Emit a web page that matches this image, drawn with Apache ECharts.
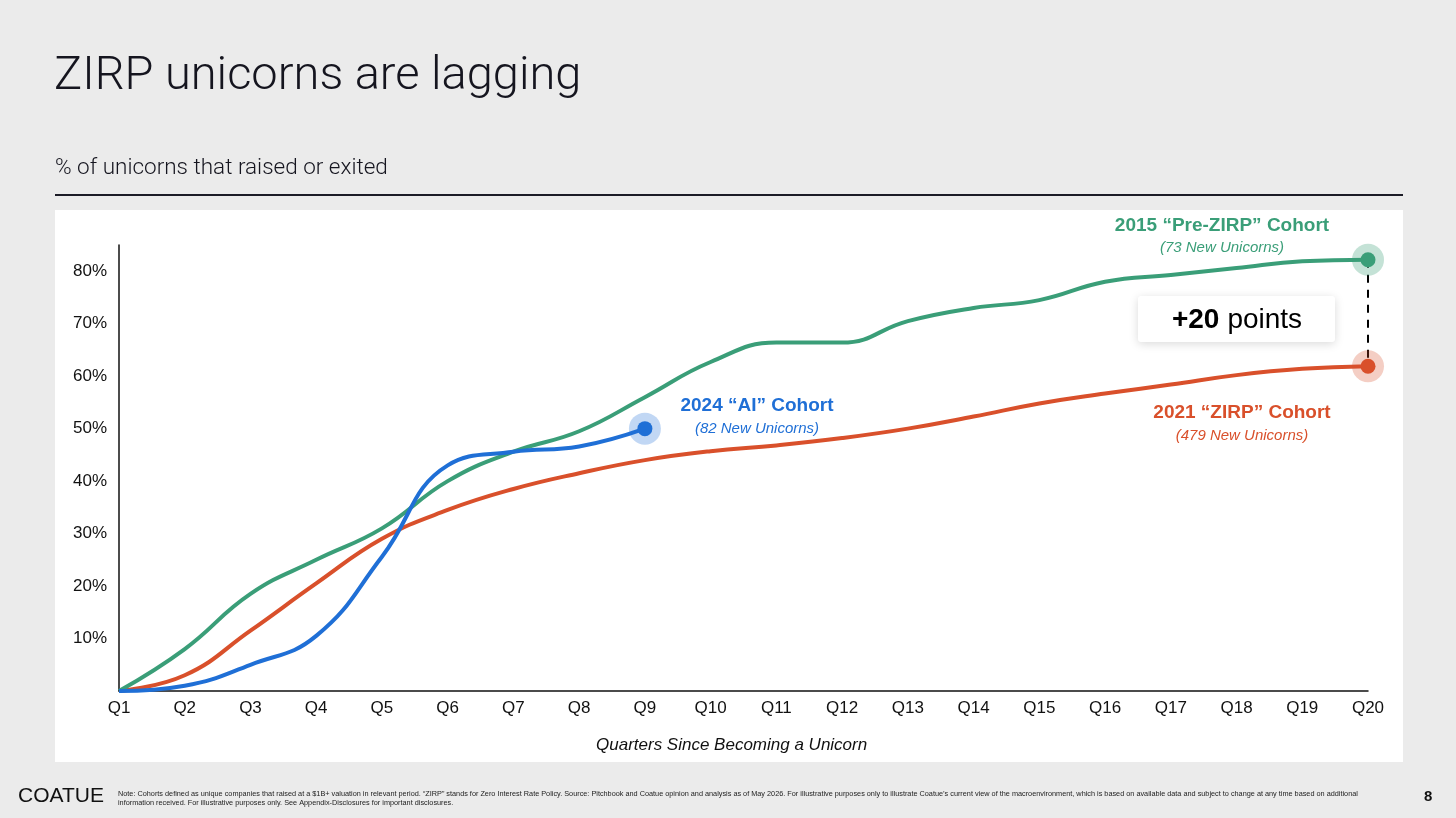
<!DOCTYPE html>
<html>
<head>
<meta charset="utf-8">
<script src="https://cdn.jsdelivr.net/npm/echarts@6/dist/echarts.min.js"></script>
<style>
  html, body { margin: 0; padding: 0; background: #ebebeb; }
  #chart { width: 1456px; height: 818px; }
</style>
</head>
<body>
<div id="chart"></div>
<script>
/* data */
var quarters = ['Q1','Q2','Q3','Q4','Q5','Q6','Q7','Q8','Q9','Q10','Q11','Q12','Q13','Q14','Q15','Q16','Q17','Q18','Q19','Q20'];
var preZirp = [0, 8, 18.5, 25, 31, 40, 45.6, 49.5, 56, 62.7, 66.4, 66.4, 70.5, 73, 74.5, 78, 79.3, 80.6, 81.9, 82.2];
var zirp = [0, 3, 11.5, 20.5, 29, 34.5, 38.5, 41.5, 44, 45.7, 46.8, 48.2, 50, 52.3, 54.8, 56.7, 58.4, 60.2, 61.4, 61.9];
var aiCohort = [0, 1, 5, 10.5, 25.6, 43, 45.6, 46.6, 50];

var GREEN = '#3a9e78', RED = '#d9502b', BLUE = '#1f6fd6';
var FONT = "'Liberation Sans', Arial, sans-serif";

function endDot(arr, color, halo) {
	var last = arr.length - 1;
	return {
		silent: true,
		animation: false,
		symbol: 'circle',
		label: { show: false },
		data: [
			{ coord: [last, arr[last]], symbolSize: 32, itemStyle: { color: halo } },
			{ coord: [last, arr[last]], symbolSize: 15, itemStyle: { color: color } }
		]
	};
}

var chart = echarts.init(document.getElementById('chart'));
var option = {
	backgroundColor: '#ebebeb',
	animation: false,
	textStyle: { fontFamily: FONT },
	graphic: [
		{ type: 'rect', z: -10, shape: { x: 55, y: 210, width: 1348, height: 552 }, style: { fill: '#ffffff' } },
		{ type: 'rect', shape: { x: 55, y: 194, width: 1348, height: 2 }, style: { fill: '#1b1b26' } },
		{ type: 'text', left: 54, top: 54, style: { text: 'ZIRP unicorns are lagging', font: "300 47px Roboto, 'Liberation Sans', sans-serif", fill: '#15151f' } },
		{ type: 'text', left: 55, top: 157, style: { text: '% of unicorns that raised or exited', font: "300 22.5px Roboto, 'Liberation Sans', sans-serif", fill: '#15151f' } },
		{ type: 'text', left: 596, top: 737, style: { text: 'Quarters Since Becoming a Unicorn', font: "italic 17px 'Liberation Sans Narrow', 'Liberation Sans', sans-serif", fill: '#111' } },

		/* cohort labels */
		{ type: 'text', x: 1222, y: 226, style: { text: '2015 \u201cPre-ZIRP\u201d Cohort', font: "bold 19px " + FONT, fill: GREEN, align: 'center', verticalAlign: 'middle' } },
		{ type: 'text', x: 1222, y: 248, style: { text: '(73 New Unicorns)', font: "italic 15px " + FONT, fill: GREEN, align: 'center', verticalAlign: 'middle' } },
		{ type: 'text', x: 757, y: 406, style: { text: '2024 \u201cAI\u201d Cohort', font: "bold 19px " + FONT, fill: BLUE, align: 'center', verticalAlign: 'middle' } },
		{ type: 'text', x: 757, y: 429, style: { text: '(82 New Unicorns)', font: "italic 15px " + FONT, fill: BLUE, align: 'center', verticalAlign: 'middle' } },
		{ type: 'text', x: 1242, y: 413, style: { text: '2021 \u201cZIRP\u201d Cohort', font: "bold 19px " + FONT, fill: RED, align: 'center', verticalAlign: 'middle' } },
		{ type: 'text', x: 1242, y: 436, style: { text: '(479 New Unicorns)', font: "italic 15px " + FONT, fill: RED, align: 'center', verticalAlign: 'middle' } },

		/* +20 points box */
		{ type: 'rect', shape: { x: 1138, y: 296, width: 197, height: 46, r: 3 }, style: { fill: '#ffffff', shadowBlur: 10, shadowColor: 'rgba(0,0,0,0.15)', shadowOffsetY: 2 } },
		{ type: 'text', x: 1237, y: 320, style: { text: '{b|+20}{n|points}', align: 'center', verticalAlign: 'middle',
			rich: { b: { font: "bold 28px " + FONT, fill: '#000' }, n: { font: "28px " + FONT, fill: '#000', padding: [0, 0, 0, 8] } } } },

		/* footer */
		{ type: 'text', left: 18, top: 786, style: { text: 'COATUE', font: "21px 'Liberation Sans Narrow', 'Liberation Sans', sans-serif", fill: '#111' } },
		{ type: 'text', left: 118, top: 789, style: {
			text: 'Note: Cohorts defined as unique companies that raised at a $1B+ valuation in relevant period. \u201cZIRP\u201d stands for Zero Interest Rate Policy. Source: Pitchbook and Coatue opinion and analysis as of May 2026. For illustrative purposes only to illustrate Coatue\u2019s current view of the macroenvironment, which is based on available data and subject to change at any time based on additional\ninformation received. For illustrative purposes only. See Appendix-Disclosures for important disclosures.',
			font: "7.3px 'Liberation Sans Narrow', 'Liberation Sans', sans-serif", fill: '#222', lineHeight: 9 } },
		{ type: 'text', left: 1424, top: 789, style: { text: '8', font: "bold 15px 'Liberation Sans Narrow', 'Liberation Sans', sans-serif", fill: '#111' } }
	],
	grid: { left: 119, right: 88, top: 245, bottom: 127, containLabel: false },
	xAxis: {
		type: 'category',
		data: quarters,
		boundaryGap: false,
		axisLine: { show: true, lineStyle: { color: '#111', width: 1.5 } },
		axisTick: { show: false },
		axisLabel: { color: '#111', fontSize: 17, margin: 9, fontFamily: FONT, interval: 0 },
		splitLine: { show: false }
	},
	yAxis: {
		type: 'value',
		min: 0,
		max: 85,
		interval: 10,
		axisLine: { show: true, lineStyle: { color: '#111', width: 1.5 } },
		axisTick: { show: false },
		splitLine: { show: false },
		axisLabel: {
			color: '#111', fontSize: 17, margin: 12, fontFamily: FONT,
			showMaxLabel: false,
			formatter: function (v) { return (v === 0 || v % 10 !== 0) ? '' : v + '%'; }
		}
	},
	series: [
		{
			name: '2021 ZIRP Cohort',
			type: 'line',
			data: zirp,
			smooth: 0.45,
			showSymbol: false,
			lineStyle: { color: RED, width: 4 },
			itemStyle: { color: RED },
			z: 3,
			markPoint: endDot(zirp, RED, 'rgba(217,80,43,0.28)')
		},
		{
			name: '2015 Pre-ZIRP Cohort',
			type: 'line',
			data: preZirp,
			smooth: 0.45,
			showSymbol: false,
			lineStyle: { color: GREEN, width: 4 },
			itemStyle: { color: GREEN },
			z: 4,
			markPoint: endDot(preZirp, GREEN, 'rgba(58,158,120,0.3)'),
			markLine: {
				silent: true,
				animation: false,
				symbol: ['none', 'none'],
				label: { show: false },
				lineStyle: { color: '#000', type: [8, 7], width: 2 },
				data: [[
					{ coord: [preZirp.length - 1, preZirp[preZirp.length - 1]] },
					{ coord: [zirp.length - 1, zirp[zirp.length - 1]] }
				]]
			}
		},
		{
			name: '2024 AI Cohort',
			type: 'line',
			data: aiCohort,
			smooth: 0.45,
			showSymbol: false,
			lineStyle: { color: BLUE, width: 4 },
			itemStyle: { color: BLUE },
			z: 5,
			markPoint: endDot(aiCohort, BLUE, 'rgba(31,111,214,0.28)')
		}
	]
};
chart.setOption(option);
</script>
</body>
</html>
